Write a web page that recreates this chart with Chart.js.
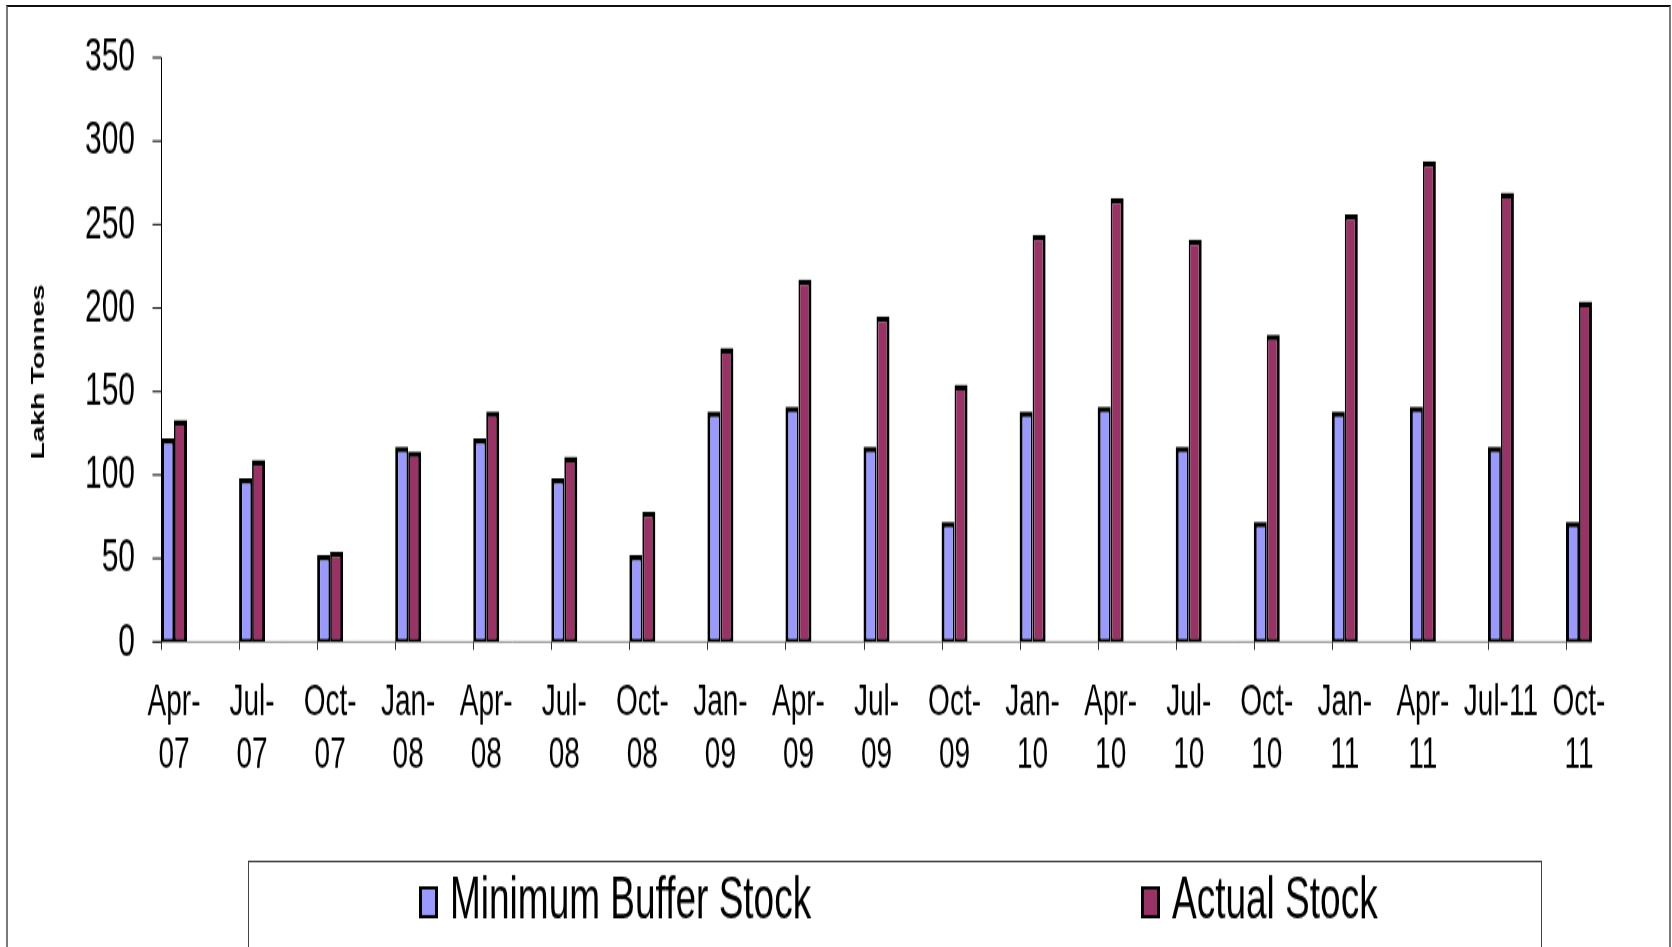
<!DOCTYPE html>
<html>
<head>
<meta charset="utf-8">
<title>Minimum Buffer Stock vs Actual Stock</title>
<script src="https://cdn.jsdelivr.net/npm/chart.js@4.4.0/dist/chart.umd.min.js"></script>
<style>
  html, body { margin: 0; padding: 0; background: #fff; overflow: hidden; }
  #wrap { position: relative; width: 1672px; height: 947px; }
  #stockChart { position: absolute; left: 0; top: 0; }
  #frame {
    position: absolute; left: 6px; top: 5px; width: 1661px; height: 1000px;
    border-top: 2px solid #111; border-left: 2px solid #7a7a7a; border-right: 2px solid #7a7a7a;
    pointer-events: none;
  }
</style>
</head>
<body>
<div id="wrap">
  <!-- drawn at 592px high and stretched to 947px, like the old stretched Excel picture -->
  <canvas id="stockChart" width="1672" height="592" style="width:1672px;height:947px"></canvas>
  <div id="frame"></div>
</div>
<script>
// Quarter labels (Jul-11 sits on one line in the original)
const months = [
    ["Apr-", "07"], ["Jul-", "07"], ["Oct-", "07"], ["Jan-", "08"],
    ["Apr-", "08"], ["Jul-", "08"], ["Oct-", "08"], ["Jan-", "09"],
    ["Apr-", "09"], ["Jul-", "09"], ["Oct-", "09"], ["Jan-", "10"],
    ["Apr-", "10"], ["Jul-", "10"], ["Oct-", "10"], ["Jan-", "11"],
    ["Apr-", "11"], "Jul-11", ["Oct-", "11"]
];

// Lakh tonnes
const minimumBufferStock = [122, 98, 52, 117, 122, 98, 52, 138, 141, 117, 72, 138, 141, 117, 72, 138, 141, 117, 72];
const actualStock = [133, 109, 54, 114, 138, 111, 78, 176, 217, 195, 154, 244, 266, 241, 184, 256, 288, 269, 204];

const yTicks = [0, 50, 100, 150, 200, 250, 300, 350];
const yTitle = 'Lakh Tonnes';

const categoryPct = 0.333;
const fontFamily = '"Liberation Sans", Arial, sans-serif';
Chart.defaults.font.family = fontFamily;
Chart.defaults.color = '#000';

// Excel style axes: y axis line and x ticks sit at the left edge of each bar pair
const excelAxes = {
    id: 'excelAxes',
    beforeDatasetsDraw(chart) {
        const { ctx, scales: { x, y } } = chart;
        const half = (x.getPixelForValue(1) - x.getPixelForValue(0)) * categoryPct / 2;
        const axisX = Math.round(x.getPixelForValue(0) - half) + 0.5;
        const axisEnd = x.getPixelForValue(months.length - 1) + half;
        const y0 = y.getPixelForValue(0);

        ctx.save();
        ctx.lineWidth = 1;

        // x axis line
        ctx.strokeStyle = '#808080';
        ctx.beginPath();
        ctx.moveTo(axisX - 9, y0);
        ctx.lineTo(axisEnd, y0);
        ctx.stroke();

        // x tick marks
        ctx.strokeStyle = '#333';
        months.forEach((m, i) => {
            const px = Math.round(x.getPixelForValue(i) - half) + 0.5;
            ctx.beginPath();
            ctx.moveTo(px, y0);
            ctx.lineTo(px, y0 + 5);
            ctx.stroke();
        });

        // y axis line and tick marks
        ctx.strokeStyle = '#000';
        ctx.beginPath();
        ctx.moveTo(axisX, y0);
        ctx.lineTo(axisX, y.getPixelForValue(yTicks[yTicks.length - 1]));
        ctx.stroke();
        yTicks.forEach(v => {
            const py = y.getPixelForValue(v);
            ctx.beginPath();
            ctx.moveTo(axisX - 9, py);
            ctx.lineTo(axisX, py);
            ctx.stroke();
        });

        // rotated axis title, a bit below the middle of the axis like the original
        ctx.translate(39, 232.5);
        ctx.rotate(-Math.PI / 2);
        ctx.font = 'bold 18px ' + fontFamily;
        ctx.fillStyle = '#000';
        ctx.textAlign = 'center';
        ctx.textBaseline = 'middle';
        ctx.fillText(yTitle, 0, 0);
        ctx.restore();
    }
};

// Boxed legend under the chart
const legendItemX = [419, 1141];
const boxLegend = {
    id: 'boxLegend',
    afterDraw(chart) {
        const ctx = chart.ctx;
        ctx.save();
        ctx.strokeStyle = '#444';
        ctx.lineWidth = 1;
        ctx.strokeRect(248.5, 538.5, 1293, 100);

        ctx.font = '37px ' + fontFamily;
        ctx.textBaseline = 'alphabetic';
        chart.data.datasets.forEach((ds, i) => {
            const bx = legendItemX[i];
            ctx.fillStyle = '#000';
            ctx.fillRect(bx, 554, 19, 20);
            ctx.fillStyle = ds.backgroundColor;
            ctx.fillRect(bx + 3, 556, 13, 16);
            ctx.fillStyle = '#000';
            ctx.fillText(ds.label, bx + 31, 574);
        });
        ctx.restore();
    }
};

const ctx = document.getElementById('stockChart').getContext('2d');
const chart = new Chart(ctx, {
    type: 'bar',
    data: {
        labels: months,
        datasets: [{
            label: 'Minimum Buffer Stock',
            data: minimumBufferStock,
            backgroundColor: '#9999FF',
            borderColor: '#000',
            // the two bars of a pair share one divider line
            borderWidth: { left: 3, top: 3.5, right: 1.75, bottom: 2 },
            borderSkipped: false,
            inflateAmount: 0
        }, {
            label: 'Actual Stock',
            data: actualStock,
            backgroundColor: '#993366',
            borderColor: '#000',
            borderWidth: { left: 1.75, top: 3.5, right: 3, bottom: 2 },
            borderSkipped: false,
            inflateAmount: 0
        }]
    },
    options: {
        responsive: false,
        animation: false,
        devicePixelRatio: 1,
        categoryPercentage: categoryPct,
        barPercentage: 1,
        layout: { padding: { left: 28, right: 54, top: 36, bottom: 90.7 } },
        plugins: {
            legend: { display: false },
            tooltip: { enabled: false }
        },
        scales: {
            x: {
                offset: true,
                grid: { display: false, drawTicks: false },
                border: { display: false },
                ticks: {
                    autoSkip: false,
                    maxRotation: 0,
                    minRotation: 0,
                    padding: 22,
                    color: '#000',
                    font: { size: 28, lineHeight: 1.16 }
                },
                afterFit(scale) { scale.height = 100; }
            },
            y: {
                min: 0,
                max: 350,
                grid: { display: false, drawTicks: false },
                border: { display: false },
                afterBuildTicks(scale) { scale.ticks = yTicks.map(v => ({ value: v })); },
                ticks: { padding: 0, color: '#000', font: { size: 30 } },
                afterFit(scale) { scale.width = 107; }
            }
        }
    },
    plugins: [excelAxes, boxLegend]
});
</script>
</body>
</html>
